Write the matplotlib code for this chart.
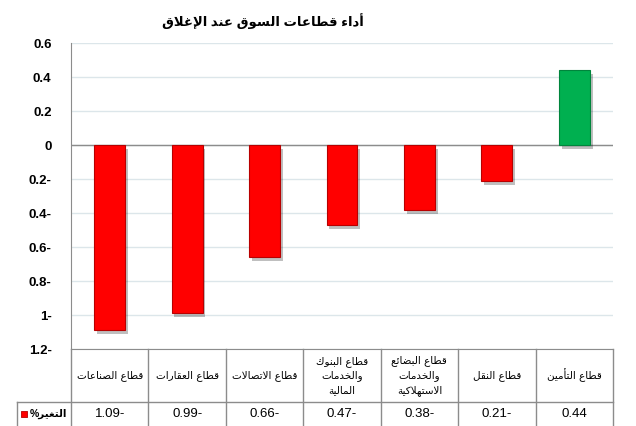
import unicodedata

import numpy as np
import matplotlib
matplotlib.use('Agg')
import matplotlib.pyplot as plt
from matplotlib import patheffects
from matplotlib.lines import Line2D
import matplotlib.transforms as mtransforms


## data
title = 'أداء قطاعات السوق عند الإغلاق'
sectors = ['قطاع الصناعات', 'قطاع العقارات', 'قطاع الاتصالات',
           'قطاع البنوك\nوالخدمات\nالمالية',
           'قطاع البضائع\nوالخدمات\nالاستهلاكية',
           'قطاع النقل', 'قطاع التأمين']
change = [-1.09, -0.99, -0.66, -0.47, -0.38, -0.21, 0.44]
series_name = 'التغير'
yticks = [-1.2, -1.0, -0.8, -0.6, -0.4, -0.2, 0, 0.2, 0.4, 0.6]


## minimal arabic shaping (matplotlib has no bidi/shaping)
def _form(ch, form):
    try:
        return unicodedata.lookup(unicodedata.name(ch) + ' ' + form)
    except (KeyError, ValueError):
        return None

def is_ar(ch):
    return '\u0621' <= ch <= '\u064a'

def joins_next(ch):
    return is_ar(ch) and _form(ch, 'INITIAL FORM') is not None

def joins_prev(ch):
    return is_ar(ch) and _form(ch, 'FINAL FORM') is not None

def ar_line(text):
    out = []
    i, n = 0, len(text)
    while i < n:
        c = text[i]
        prev = text[i-1] if i > 0 else ''
        con_prev = bool(prev) and joins_next(prev) and joins_prev(c)
        if c == 'ل' and i+1 < n and text[i+1] in 'اأإآ':
            nm = 'ARABIC LIGATURE LAM WITH ' + unicodedata.name(text[i+1])[len('ARABIC LETTER '):]
            out.append(unicodedata.lookup(nm + (' FINAL FORM' if con_prev else ' ISOLATED FORM')))
            i += 2
            continue
        nxt = text[i+1] if i+1 < n else ''
        con_next = bool(nxt) and joins_next(c) and joins_prev(nxt)
        if is_ar(c):
            form = {(True, True): 'MEDIAL FORM', (True, False): 'FINAL FORM',
                    (False, True): 'INITIAL FORM', (False, False): 'ISOLATED FORM'}[(con_prev, con_next)]
            out.append(_form(c, form) or c)
        else:
            out.append(c)
        i += 1
    return ''.join(reversed(out))

def ar(text):
    return '\n'.join(ar_line(l) for l in text.split('\n'))

def rtl_num(v):
    # arabic style: minus sign after the number
    s = f'{abs(v):g}'
    return s + '-' if v < 0 else s


plt.rcParams['font.family'] = ['Liberation Sans', 'DejaVu Sans']

fig = plt.figure(figsize=(6.36, 4.26), dpi=100)
ax = fig.add_axes([71/636, 1-349/426, 542/636, 306/426])

x = np.arange(len(sectors))
colors = ['#00b050' if v > 0 else '#ff0000' for v in change]
edges = ['#00853c' if v > 0 else '#b80000' for v in change]
bars = ax.bar(x, change, width=0.4, color=colors, edgecolor=edges, linewidth=0.8, zorder=3)
for b in bars:
    b.set_path_effects([patheffects.SimplePatchShadow(offset=(2, -3), shadow_rgbFace='#000000', alpha=0.25),
                        patheffects.Normal()])

ax.set_xlim(-0.5, len(sectors)-0.5)
ax.set_ylim(-1.2, 0.6)
ax.set_yticks(yticks)
ax.set_yticklabels([rtl_num(v) for v in yticks], fontsize=9.5, fontweight='bold')
ax.set_xticks([])
ax.tick_params(axis='y', length=0, pad=14)
ax.grid(axis='y', color='#dce6ea', linewidth=1, zorder=0)
ax.axhline(0, color='#8c8c8c', linewidth=1, zorder=2)
for s in ['top', 'right']:
    ax.spines[s].set_visible(False)
for s in ['left', 'bottom']:
    ax.spines[s].set_color('#8c8c8c')

## data table below the axes
lc = '#8c8c8c'
row1 = -53/306
row2 = -77/306
trans = mtransforms.blended_transform_factory(ax.transData, ax.transAxes)
for i in range(len(sectors)+1):
    ax.add_line(Line2D([i-0.5, i-0.5], [0, row2-0.02], color=lc, lw=1, transform=trans, clip_on=False))
ax.add_line(Line2D([-54/542, 1], [row1, row1], color=lc, lw=1, transform=ax.transAxes, clip_on=False))
ax.add_line(Line2D([-54/542, -54/542], [row1, row2-0.02], color=lc, lw=1, transform=ax.transAxes, clip_on=False))

for i, (name, v) in enumerate(zip(sectors, change)):
    ax.text(i, row1/2, ar(name), ha='center', va='center', fontsize=7.5, linespacing=1.45,
            transform=trans, family='DejaVu Sans')
    ax.text(i, (row1+row2)/2, rtl_num(v), ha='center', va='center', fontsize=9.5, transform=trans)

ax.text(-4/542, (row1+row2)/2, '%' + ar(series_name), ha='right', va='center', fontsize=7.5,
        fontweight='bold', transform=ax.transAxes)
ax.scatter([-47/542], [(row1+row2)/2], marker='s', s=22, color='#ff0000', edgecolor='#b80000',
           linewidth=0.6, transform=ax.transAxes, clip_on=False)

fig.text(263/636, 1-21/426, ar(title), ha='center', va='center', fontsize=9.5, fontweight='bold')

fig.savefig('out.png', dpi=100)
